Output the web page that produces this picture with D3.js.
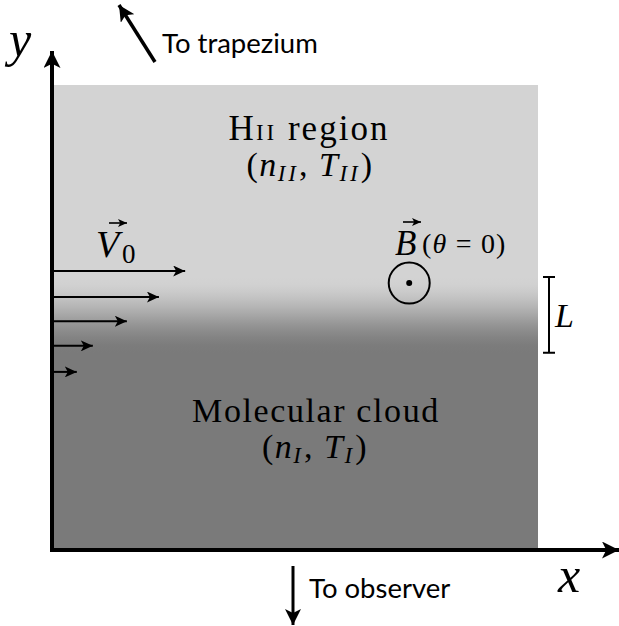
<!DOCTYPE html>
<html>
<head>
<meta charset="utf-8">
<script src="https://cdn.jsdelivr.net/npm/d3@7"></script>
<style>
  html, body { margin: 0; padding: 0; background: #fff; }
  svg { display: block; }
  .serif { font-family: "Liberation Serif", "DejaVu Serif", serif; }
  .sans { font-family: "Lato", "Open Sans", sans-serif; }
</style>
</head>
<body>
<svg id="chart" width="619" height="626"></svg>
<script>
// ---- data (in box units: x 0..100 across the box, y 0..100 up the box) ----
const regions = ["Molecular cloud", "HII region"];
const regionColors = ["#7a7a7a", "#d3d3d3"];
const transitionBand = [42.4, 58.7];          // y-extent of the boundary layer (L)
const flowHeights = [60.0, 54.4, 49.2, 43.9, 38.3]; // y of velocity arrows
const flowLengths = [27.4, 22.0, 15.4, 8.4, 5.1];   // length of velocity arrows
const fieldPoint = [73.5, 57.4];              // B-field symbol position

const svg = d3.select("#chart");
const box = { left: 52, right: 538, top: 85, bottom: 550 };
const x = d3.scaleLinear().domain([0, 100]).range([box.left, box.right]);
const y = d3.scaleLinear().domain([0, 100]).range([box.bottom, box.top]);

const defs = svg.append("defs");
const grad = defs.append("linearGradient")
  .attr("id", "bg").attr("gradientUnits", "userSpaceOnUse")
  .attr("x1", 0).attr("x2", 0)
  .attr("y1", y(transitionBand[1])).attr("y2", y(transitionBand[0]));
const mix = d3.interpolateRgb(regionColors[1], regionColors[0]);
d3.range(0, 1.0001, 0.1).forEach(t => {
  const s = t * t * (3 - 2 * t);
  grad.append("stop").attr("offset", t).attr("stop-color", mix(s));
});

function marker(id, w, h) {
  defs.append("marker").attr("id", id)
    .attr("viewBox", `0 ${-h} ${w} ${2*h}`)
    .attr("refX", w).attr("refY", 0)
    .attr("markerWidth", w).attr("markerHeight", 2*h)
    .attr("markerUnits", "userSpaceOnUse")
    .attr("orient", "auto")
    .append("path").attr("d", `M0,${-h} L${w},0 L0,${h} L${w*0.25},0 Z`).attr("fill", "#000");
}
marker("axisHead", 17, 8.5);
marker("bigHead", 16, 8);
marker("flowHead", 12, 5.5);
marker("vecHead", 9, 4);

// background box
svg.append("rect")
  .attr("x", x(0)).attr("y", y(100))
  .attr("width", x(100) - x(0)).attr("height", y(0) - y(100))
  .attr("fill", "url(#bg)");

// axes
svg.append("line").attr("x1", x(0)).attr("y1", y(0) + 2).attr("x2", x(0)).attr("y2", 51)
  .attr("stroke", "#000").attr("stroke-width", 4).attr("marker-end", "url(#axisHead)");
svg.append("line").attr("x1", x(0) - 2).attr("y1", y(0)).attr("x2", 619).attr("y2", y(0))
  .attr("stroke", "#000").attr("stroke-width", 4).attr("marker-end", "url(#axisHead)");

svg.append("text").attr("class", "serif").attr("x", 9).attr("y", 56)
  .attr("font-size", 50).attr("font-style", "italic").text("y");
svg.append("text").attr("class", "serif").attr("x", 558).attr("y", 592)
  .attr("font-size", 50).attr("font-style", "italic").text("x");

// direction arrows
svg.append("line").attr("x1", 155).attr("y1", 62).attr("x2", 119).attr("y2", 5)
  .attr("stroke", "#000").attr("stroke-width", 3.5).attr("marker-end", "url(#bigHead)");
svg.append("text").attr("class", "sans").attr("x", 162).attr("y", 53)
  .attr("font-size", 27.5).text("To trapezium");
svg.append("line").attr("x1", 293).attr("y1", 566).attr("x2", 293).attr("y2", 625)
  .attr("stroke", "#000").attr("stroke-width", 3).attr("marker-end", "url(#bigHead)");
svg.append("text").attr("class", "sans").attr("x", 309).attr("y", 598)
  .attr("font-size", 27.5).text("To observer");

// velocity arrows
svg.selectAll(".flow").data(flowHeights.map((h, i) => ({ h, len: flowLengths[i] })))
  .join("line").attr("class", "flow")
  .attr("x1", x(0)).attr("x2", d => x(d.len))
  .attr("y1", d => y(d.h)).attr("y2", d => y(d.h))
  .attr("stroke", "#000").attr("stroke-width", 2).attr("marker-end", "url(#flowHead)");

// V0 label
const vx = 96, vy = 257;
svg.append("text").attr("class", "serif").attr("x", vx).attr("y", vy)
  .attr("font-size", 38).attr("font-style", "italic").text("V");
svg.append("text").attr("class", "serif").attr("x", vx + 26).attr("y", vy + 6)
  .attr("font-size", 27).text("0");
svg.append("line").attr("x1", vx + 13).attr("x2", vx + 31).attr("y1", 223).attr("y2", 223)
  .attr("stroke", "#000").attr("stroke-width", 1.6).attr("marker-end", "url(#vecHead)");

// B label
const bx = 395, by = 255;
svg.append("text").attr("class", "serif").attr("x", bx).attr("y", by)
  .attr("font-size", 35).attr("font-style", "italic").text("B");
const bt = svg.append("text").attr("class", "serif").attr("x", bx + 27).attr("y", by - 2)
  .attr("font-size", 28).attr("letter-spacing", 1.2);
bt.append("tspan").text("(");
bt.append("tspan").attr("font-style", "italic").text("θ");
bt.append("tspan").text(" = 0)");
svg.append("line").attr("x1", bx + 8).attr("x2", bx + 26).attr("y1", 222).attr("y2", 222)
  .attr("stroke", "#000").attr("stroke-width", 1.6).attr("marker-end", "url(#vecHead)");

svg.append("circle").attr("cx", x(fieldPoint[0])).attr("cy", y(fieldPoint[1])).attr("r", 20.5)
  .attr("fill", "none").attr("stroke", "#000").attr("stroke-width", 2);
svg.append("circle").attr("cx", x(fieldPoint[0])).attr("cy", y(fieldPoint[1])).attr("r", 3)
  .attr("fill", "#000");

// L bracket
const lx = 549;
svg.append("path")
  .attr("d", `M${lx-6},${y(transitionBand[1])} H${lx+6} M${lx},${y(transitionBand[1])} V${y(transitionBand[0])} M${lx-6},${y(transitionBand[0])} H${lx+6}`)
  .attr("stroke", "#000").attr("stroke-width", 2).attr("fill", "none");
svg.append("text").attr("class", "serif").attr("x", 555).attr("y", 327)
  .attr("font-size", 34).attr("font-style", "italic").text("L");

// region labels
const h2 = svg.append("text").attr("class", "serif").attr("x", 309).attr("y", 140)
  .attr("text-anchor", "middle").attr("font-size", 35).attr("letter-spacing", 2);
h2.append("tspan").text("H");
h2.append("tspan").attr("font-size", 23).attr("letter-spacing", 3).text("II");
h2.append("tspan").text(" region");

const p2 = svg.append("text").attr("class", "serif").attr("x", 310).attr("y", 176)
  .attr("text-anchor", "middle").attr("font-size", 34).attr("letter-spacing", 1.5);
p2.append("tspan").text("(");
p2.append("tspan").attr("font-style", "italic").text("n");
p2.append("tspan").attr("font-style", "italic").attr("font-size", 23).attr("dy", 5).attr("letter-spacing", 3).text("II");
p2.append("tspan").attr("dy", -5).text(", ");
p2.append("tspan").attr("font-style", "italic").text("T");
p2.append("tspan").attr("font-style", "italic").attr("font-size", 23).attr("dy", 5).attr("letter-spacing", 3).text("II");
p2.append("tspan").attr("dy", -5).text(")");

svg.append("text").attr("class", "serif").attr("x", 316).attr("y", 422)
  .attr("text-anchor", "middle").attr("font-size", 34).attr("letter-spacing", 1.6).text(regions[0]);

const p1 = svg.append("text").attr("class", "serif").attr("x", 315).attr("y", 458)
  .attr("text-anchor", "middle").attr("font-size", 34).attr("letter-spacing", 1.5);
p1.append("tspan").text("(");
p1.append("tspan").attr("font-style", "italic").text("n");
p1.append("tspan").attr("font-style", "italic").attr("font-size", 23).attr("dy", 5).attr("letter-spacing", 3).text("I");
p1.append("tspan").attr("dy", -5).text(", ");
p1.append("tspan").attr("font-style", "italic").text("T");
p1.append("tspan").attr("font-style", "italic").attr("font-size", 23).attr("dy", 5).attr("letter-spacing", 3).text("I");
p1.append("tspan").attr("dy", -5).text(")");
</script>
</body>
</html>
